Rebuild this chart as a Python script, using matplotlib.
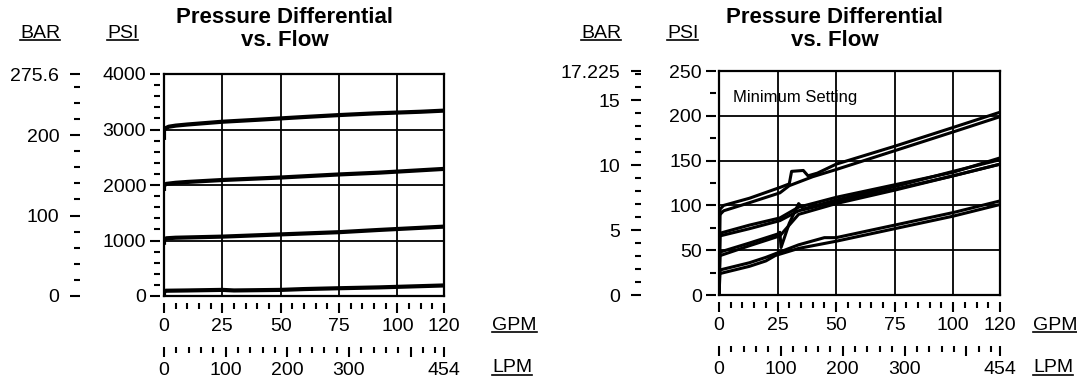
import numpy as np
import matplotlib
matplotlib.use("Agg")
import matplotlib.pyplot as plt
from matplotlib.ticker import FixedLocator
from matplotlib.lines import Line2D

plt.rcParams['font.family'] = ['Liberation Sans', 'DejaVu Sans']

PSI2BAR = 0.0689476
GPM2LPM = 3.785

# left chart: four pressure settings (GPM, PSI)
l1_gpm = [0, 0, 0.5, 2, 5, 10, 25, 40, 50, 60, 75, 90, 100, 110, 120]
l1_psi = [2850, 2980, 3020, 3050, 3070, 3090, 3140, 3175, 3200, 3225, 3260, 3290, 3305, 3320, 3340]
l2_gpm = [0, 0, 1, 5, 10, 25, 50, 75, 92, 120]
l2_psi = [1930, 1990, 2020, 2040, 2055, 2090, 2135, 2190, 2222, 2290]
l3_gpm = [0, 0, 1, 5, 25, 50, 75, 92, 120]
l3_psi = [960, 1010, 1040, 1050, 1070, 1110, 1150, 1190, 1250]
l4_gpm = [0, 0, 1, 10, 25, 30, 50, 60, 75, 92, 120]
l4_psi = [20, 90, 95, 100, 110, 100, 110, 125, 140, 155, 190]

# right chart: minimum setting, up and down traces
a_up_gpm = [0, 0.5, 2, 13, 26, 30, 31, 36, 38, 42, 50, 75, 100, 120]
a_up_psi = [0, 96, 100, 108, 120, 124, 138, 139, 133, 136, 146, 166, 187, 204]
a_dn_gpm = [120, 100, 75, 50, 40, 30, 26, 13, 2, 0.5]
a_dn_psi = [199, 182, 161, 140, 132, 122, 114, 103, 94, 90]
b_up_gpm = [0, 0.5, 13, 26, 34, 50, 75, 100, 120]
b_up_psi = [0, 69, 78, 86, 98, 109, 123, 137, 153]
b_dn_gpm = [120, 100, 75, 50, 34, 26, 13, 0.5]
b_dn_psi = [146, 133, 118, 104, 94, 83, 74, 66]
c_up_gpm = [0, 0.5, 13, 25, 26, 26.5, 30, 34, 36, 50, 75, 100, 120]
c_up_psi = [0, 48, 58, 68, 70, 53, 80, 102, 96, 106, 121, 138, 151]
c_dn_gpm = [120, 100, 75, 50, 34, 26, 13, 0.5]
c_dn_psi = [146, 133, 117, 102, 90, 66, 55, 44]
d_up_gpm = [0, 0.5, 13, 20, 26, 34, 45, 50, 75, 100, 120]
d_up_psi = [0, 28, 36, 42, 48, 56, 64, 64, 78, 92, 105]
d_dn_gpm = [120, 100, 75, 50, 34, 24, 20, 13, 0.5]
d_dn_psi = [101, 88, 74, 60, 52, 44, 38, 32, 24]

fig = plt.figure(figsize=(10.77, 3.83), dpi=100)
W, H = 1077.0, 383.0


def setup(ax, w, h, ymax, ystep, yminor, bar_major, bar_labels, bar_minor, bar_off, psi_off):
    ax.set_xlim(0, 120)
    ax.set_ylim(0, ymax)
    ax.set_xticks([25, 50, 75, 100])
    ax.set_yticks(np.arange(ystep, ymax, ystep))
    ax.grid(True, color='black', lw=1.3)
    ax.tick_params(length=0, labelbottom=False, labelleft=False)
    for s in ax.spines.values():
        s.set_linewidth(1.6)

    psi = ax.secondary_yaxis(-psi_off / w)
    psi.yaxis.set_major_locator(FixedLocator(np.arange(0, ymax + 1, ystep)))
    psi.yaxis.set_minor_locator(FixedLocator(yminor))
    psi.spines['left'].set_visible(False)
    psi.tick_params(which='major', length=7, width=1.5, pad=3, labelsize=14)
    psi.tick_params(which='minor', length=4, width=1.5)

    bar = ax.secondary_yaxis(-bar_off / w, functions=(lambda p: p * PSI2BAR, lambda b: b / PSI2BAR))
    bar.yaxis.set_major_locator(FixedLocator(bar_major))
    bar.set_yticklabels(bar_labels)
    bar.yaxis.set_minor_locator(FixedLocator(bar_minor))
    bar.spines['left'].set_visible(False)
    bar.tick_params(which='major', length=7, width=1.5, pad=8, labelsize=14)
    bar.tick_params(which='minor', length=4, width=1.5)

    gpm = ax.secondary_xaxis(-7 / h)
    gpm.xaxis.set_major_locator(FixedLocator([0, 25, 50, 75, 100, 120]))
    gpm.xaxis.set_minor_locator(FixedLocator([g for g in range(5, 120, 5) if g % 25]))
    gpm.spines['bottom'].set_visible(False)
    gpm.tick_params(which='major', length=7, width=1.5, pad=4, labelsize=14)
    gpm.tick_params(which='minor', length=4, width=1.5)

    lpm = ax.secondary_xaxis(-51 / h, functions=(lambda g: g * GPM2LPM, lambda l: l / GPM2LPM))
    lpm.xaxis.set_major_locator(FixedLocator([0, 100, 200, 300, 400, 454]))
    lpm.set_xticklabels(['0', '100', '200', '300', '', '454'])
    lpm.xaxis.set_minor_locator(FixedLocator([v for v in range(20, 454, 20) if v % 100]))
    lpm.spines['bottom'].set_visible(False)
    lpm.tick_params(which='major', length=7, width=1.5, pad=4, labelsize=14)
    lpm.tick_params(which='minor', length=4, width=1.5)


# left chart
axl = fig.add_axes([164 / W, (H - 296) / H, 280 / W, 222 / H])
setup(axl, 280, 222, 4000, 1000,
      [v for v in range(200, 4000, 200) if v % 1000],
      [0, 100, 200, 275.6], ['0', '100', '200', '275.6'],
      [20, 40, 60, 80, 120, 140, 160, 180, 220, 240, 260], 84, 4)
for gx, py in [(l1_gpm, l1_psi), (l2_gpm, l2_psi), (l3_gpm, l3_psi), (l4_gpm, l4_psi)]:
    axl.plot(gx, py, color='black', lw=3.0)

# right chart
axr = fig.add_axes([719 / W, (H - 295) / H, 281 / W, 224 / H])
setup(axr, 281, 224, 250, 50, [25, 75, 125, 175, 225],
      [0, 5, 10, 15, 17.225], ['0', '5', '10', '15', '17.225'],
      [v for v in range(1, 18) if v % 5], 78, 3)
for gx, py in [(a_up_gpm, a_up_psi), (a_dn_gpm, a_dn_psi), (b_up_gpm, b_up_psi), (b_dn_gpm, b_dn_psi),
               (c_up_gpm, c_up_psi), (c_dn_gpm, c_dn_psi), (d_up_gpm, d_up_psi), (d_dn_gpm, d_dn_psi)]:
    axr.plot(gx, py, color='black', lw=2.2)
axr.text(6, 220, 'Minimum Setting', fontsize=12, va='center', ha='left')

# titles and unit headers
for cx in (285, 835):
    fig.text(cx / W, 1 - 7 / H, 'Pressure Differential\nvs. Flow', ha='center', va='top',
             fontsize=16, fontweight='bold', linespacing=1.12)

labels = []
for x, y, s in [(20, 33, 'BAR'), (107, 33, 'PSI'), (581, 33, 'BAR'), (667, 33, 'PSI'),
                (492, 325, 'GPM'), (492, 368, 'LPM'), (1033, 325, 'GPM'), (1033, 368, 'LPM')]:
    labels.append(fig.text(x / W, 1 - y / H, s, ha='left', va='center', fontsize=14))

fig.canvas.draw()
r = fig.canvas.get_renderer()
for t in labels:
    bb = t.get_window_extent(r)
    yy = (bb.y0 + 2) / H
    fig.add_artist(Line2D([bb.x0 / W, bb.x1 / W], [yy, yy], color='black', lw=1.2))

fig.savefig('out.png', dpi=100)
